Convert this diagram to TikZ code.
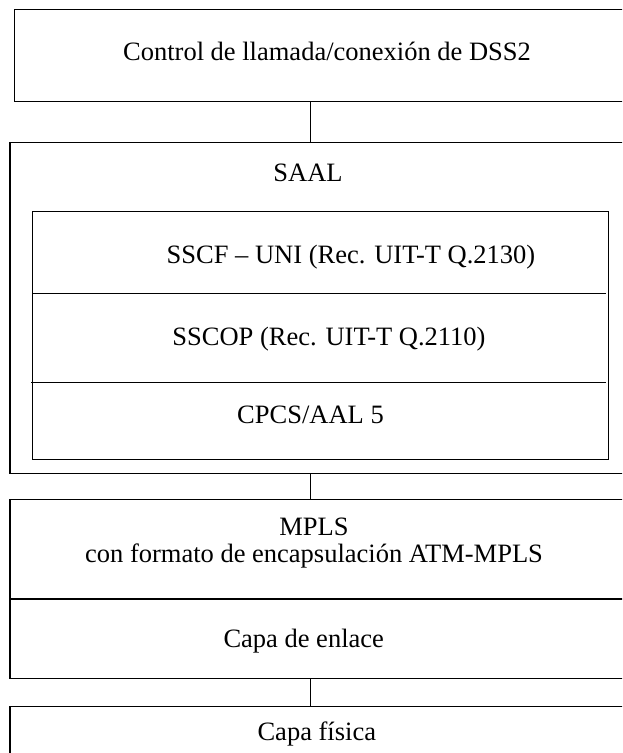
\documentclass[tikz,border=0pt]{standalone}
\usepackage{fontspec}
\setmainfont{Liberation Serif}
\begin{document}
\begin{tikzpicture}[x=1pt,y=-1pt,
  box/.style={draw, rectangle, line width=1.1pt, inner sep=0pt, outer sep=0pt, anchor=north west},
  lbl/.style={anchor=base, inner sep=0pt, font=\fontsize{26.5}{30}\selectfont},
  link/.style={line width=1.1pt}]
\useasboundingbox (0,0) rectangle (622,753);
\clip (0,0) rectangle (622,753);
% boxes
\node[box, minimum width=615.5pt, minimum height=92.4pt] (top) at (14.5,9.3) {};
\node[box, minimum width=621pt, minimum height=330.8pt] (saal) at (10,142.7) {};
\node[box, minimum width=576pt, minimum height=247.6pt] (inner) at (32.3,211.7) {};
\node[box, minimum width=621pt, minimum height=179pt] (mpls) at (10,499.3) {};
\node[box, minimum width=621pt, minimum height=60pt] (phys) at (10,706.7) {};
% axis of connectors
\coordinate (axis) at (310.7,0);
\draw[link] (top.south -| axis) -- (saal.north -| axis);
\draw[link] (saal.south -| axis) -- (mpls.north -| axis);
\draw[link] (mpls.south -| axis) -- (phys.north -| axis);
% dividers
\coordinate (d1a) at (32.3,293.7); \coordinate (d1b) at (606,293.7);
\coordinate (d2a) at (31,382.3);   \coordinate (d2b) at (606,382.3);
\draw[link] (d1a) -- (d1b);
\draw[link] (d2a) -- (d2b);
\coordinate (d3) at (0,599);
\draw[link] (mpls.west |- d3) -- (mpls.east |- d3);
% labels
\node[lbl] (tctl) at (327,60) {Control de llamada/conexión de DSS2};
\node[lbl] (tsaal) at (308,181.7) {SAAL};
\node[lbl] (tsscf) at (351,263.3) {SSCF – UNI (Rec. UIT-T Q.2130)};
\node[lbl] (tsscop) at (329,345) {SSCOP (Rec. UIT-T Q.2110)};
\node[lbl] (tcpcs) at (310.5,423.3) {CPCS/AAL 5};
\node[lbl] (tmpls) at (314,535.7) {MPLS};
\node[lbl] (tcon) at (314,562.7) {con formato de encapsulación ATM-MPLS};
\node[lbl] (tenl) at (303.7,647.7) {Capa de enlace};
\node[lbl] (tfis) at (316.8,740) {Capa física};
\end{tikzpicture}
\end{document}
